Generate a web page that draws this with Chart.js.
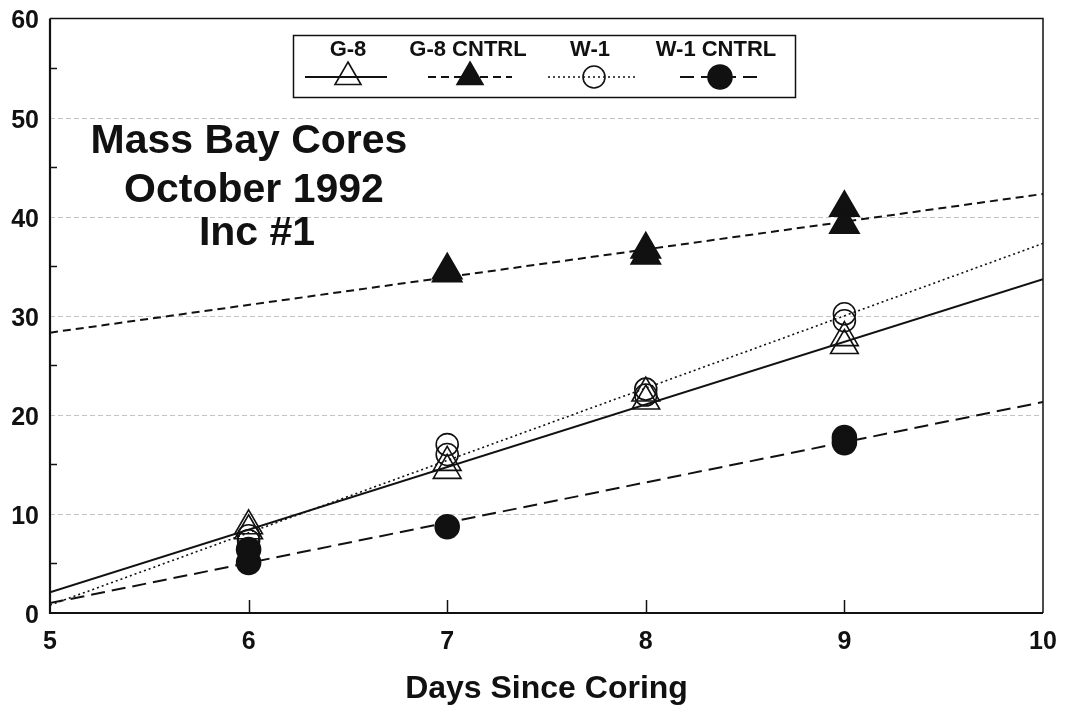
<!DOCTYPE html>
<html><head><meta charset="utf-8">
<script src="https://cdn.jsdelivr.net/npm/chart.js@4.4.0/dist/chart.umd.min.js"></script>
<style>html,body{margin:0;padding:0;background:#fff;}#wrap{width:1065px;height:708px;}</style>
</head><body><div id="wrap"><canvas id="c" width="1065" height="708"></canvas></div>
<script>
// ---------- data ----------
const SERIES_NAMES = ['G-8', 'G-8 CNTRL', 'W-1', 'W-1 CNTRL'];
const G8_DAYS = [6, 6, 7, 7, 8, 8, 9, 9];
const G8_VALUES = [8.8, 8.3, 15.2, 14.4, 22.2, 21.4, 27.8, 27.0];
const G8C_DAYS = [7, 7, 8, 8, 9, 9];
const G8C_VALUES = [34.6, 34.3, 36.7, 36.1, 40.9, 39.2];
const W1_DAYS = [6, 6, 7, 7, 8, 8, 9, 9];
const W1_VALUES = [7.8, 7.3, 17.0, 16.0, 22.6, 22.0, 30.2, 29.5];
const W1C_DAYS = [6, 6, 7, 9, 9];
const W1C_VALUES = [6.4, 5.1, 8.7, 17.7, 17.2];
// fitted regression lines, read at the ends of the axis
const FIT_DAYS = [5, 10];
const G8_FIT = [2.1, 33.7];
const G8C_FIT = [28.3, 42.3];
const W1_FIT = [0.8, 37.3];
const W1C_FIT = [1.0, 21.3];
const X_TICKS = [5, 6, 7, 8, 9, 10];
const Y_TICKS = [0, 10, 20, 30, 40, 50, 60];
const Y_MINOR = [5, 15, 25, 35, 45, 55];
const TITLE_LINES = ['Mass Bay Cores', 'October 1992', 'Inc #1'];
const X_TITLE = 'Days Since Coring';

// ---------- styles ----------
const FONT = "'Liberation Sans', Arial, Helvetica, sans-serif";
const INK = '#111';
const STY = [
  {style: 'triangle', r: 16, fill: 'rgba(0,0,0,0)', dash: [], lw: 2},
  {style: 'triangle', r: 17, fill: INK, dash: [8, 5], lw: 2},
  {style: 'circle', r: 11, fill: 'rgba(0,0,0,0)', dash: [2, 3], lw: 1.6},
  {style: 'circle', r: 12, fill: INK, dash: [14, 7], lw: 2}
];
const pts = (xs, ys) => xs.map((x, i) => ({x: x, y: ys[i]}));
const allPts = [pts(G8_DAYS, G8_VALUES), pts(G8C_DAYS, G8C_VALUES), pts(W1_DAYS, W1_VALUES), pts(W1C_DAYS, W1C_VALUES)];
const allFits = [pts(FIT_DAYS, G8_FIT), pts(FIT_DAYS, G8C_FIT), pts(FIT_DAYS, W1_FIT), pts(FIT_DAYS, W1C_FIT)];
const pointOrder = [3, 1, 2, 0];

const datasets = [];
SERIES_NAMES.forEach((name, i) => {
  datasets.push({
    label: name, data: allPts[i], showLine: false,
    pointStyle: STY[i].style, pointRadius: STY[i].r, pointHoverRadius: STY[i].r,
    pointBackgroundColor: STY[i].fill, pointBorderColor: INK, pointBorderWidth: 1.6,
    order: pointOrder[i]
  });
});
SERIES_NAMES.forEach((name, i) => {
  datasets.push({
    label: name + ' fit', data: allFits[i], showLine: true,
    borderColor: INK, borderWidth: STY[i].lw, borderDash: STY[i].dash,
    pointRadius: 0, pointHoverRadius: 0, fill: false, order: 10 + i
  });
});

function marker(ctx, st, x, y, r) {
  ctx.save();
  ctx.fillStyle = st.fill; ctx.strokeStyle = INK; ctx.lineWidth = 1.6; ctx.setLineDash([]);
  Chart.helpers.drawPoint(ctx, {pointStyle: st.style, radius: r, borderWidth: 1.6, rotation: 0}, x, y);
  ctx.restore();
}

const LEGEND = {box: [293, 35, 795, 97], textY: 50, lineY: 77,
  items: [
    {tx: 348, l0: 305, l1: 387, mx: 348, r: 15},
    {tx: 468, l0: 428, l1: 512, mx: 470, r: 15},
    {tx: 590, l0: 548, l1: 637, mx: 594, r: 11},
    {tx: 716, l0: 680, l1: 763, mx: 720, r: 12}
  ]};
const TITLE_POS = [[249, 153], [254, 202], [257, 245]];

const deco = {
  id: 'deco',
  beforeDatasetsDraw(chart) {
    const ctx = chart.ctx, a = chart.chartArea, ys = chart.scales.y;
    ctx.save();
    ctx.strokeStyle = '#c4c4c4'; ctx.lineWidth = 1; ctx.setLineDash([5, 3]);
    Y_TICKS.forEach(v => {
      if (v <= 0 || v >= 60) return;
      const py = Math.round(ys.getPixelForValue(v)) + 0.5;
      ctx.beginPath(); ctx.moveTo(a.left, py); ctx.lineTo(a.right, py); ctx.stroke();
    });
    ctx.restore();
  },
  afterDatasetsDraw(chart) {
    const ctx = chart.ctx, a = chart.chartArea, xs = chart.scales.x, ys = chart.scales.y;
    ctx.save();
    ctx.strokeStyle = INK; ctx.setLineDash([]);
    // frame
    ctx.lineWidth = 1.5;
    ctx.beginPath(); ctx.moveTo(a.left, a.top); ctx.lineTo(a.right, a.top); ctx.lineTo(a.right, a.bottom); ctx.stroke();
    ctx.lineWidth = 2.2;
    ctx.beginPath(); ctx.moveTo(a.left, a.top); ctx.lineTo(a.left, a.bottom); ctx.lineTo(a.right, a.bottom); ctx.stroke();
    // ticks
    ctx.lineWidth = 1.5;
    X_TICKS.forEach(v => {
      if (v <= 5 || v >= 10) return;
      const px = Math.round(xs.getPixelForValue(v)) + 0.5;
      ctx.beginPath(); ctx.moveTo(px, a.bottom); ctx.lineTo(px, a.bottom - 13); ctx.stroke();
    });
    Y_MINOR.forEach(v => {
      const py = Math.round(ys.getPixelForValue(v)) + 0.5;
      ctx.beginPath(); ctx.moveTo(a.left, py); ctx.lineTo(a.left + 7, py); ctx.stroke();
    });
    // in-plot title
    ctx.fillStyle = INK; ctx.textAlign = 'center'; ctx.textBaseline = 'alphabetic';
    ctx.font = 'bold 41px ' + FONT;
    TITLE_LINES.forEach((t, i) => ctx.fillText(t, TITLE_POS[i][0], TITLE_POS[i][1]));
    // legend
    const b = LEGEND.box;
    ctx.fillStyle = '#fff'; ctx.fillRect(b[0], b[1], b[2] - b[0], b[3] - b[1]);
    ctx.lineWidth = 1.5; ctx.strokeStyle = INK;
    ctx.strokeRect(b[0] + 0.5, b[1] + 0.5, b[2] - b[0], b[3] - b[1]);
    ctx.font = 'bold 22px ' + FONT; ctx.fillStyle = INK; ctx.textBaseline = 'middle';
    LEGEND.items.forEach((it, i) => {
      ctx.fillText(SERIES_NAMES[i], it.tx, LEGEND.textY);
      ctx.save();
      ctx.lineWidth = STY[i].lw; ctx.setLineDash(STY[i].dash);
      ctx.beginPath(); ctx.moveTo(it.l0, LEGEND.lineY); ctx.lineTo(it.l1, LEGEND.lineY); ctx.stroke();
      ctx.restore();
      marker(ctx, STY[i], it.mx, LEGEND.lineY, it.r);
    });
    ctx.restore();
  }
};

new Chart(document.getElementById('c'), {
  type: 'scatter',
  data: {datasets: datasets},
  plugins: [deco],
  options: {
    responsive: false, animation: false, devicePixelRatio: 1,
    layout: {padding: {top: 9, right: 22, left: 0, bottom: 0}},
    plugins: {legend: {display: false}, tooltip: {enabled: false}},
    scales: {
      x: {
        type: 'linear', min: 5, max: 10,
        afterBuildTicks: s => { s.ticks = X_TICKS.map(v => ({value: v})); },
        ticks: {font: {family: FONT, size: 25, weight: 'bold'}, color: INK, padding: 14, maxRotation: 0},
        grid: {display: false, drawTicks: false},
        border: {display: false},
        title: {display: true, text: X_TITLE, color: INK, font: {family: FONT, size: 32, weight: 'bold'}, padding: {top: 0, bottom: 0}},
        afterFit: s => { s.height = 95; s.paddingLeft = 0; s.paddingRight = 0; }
      },
      y: {
        type: 'linear', min: 0, max: 60,
        afterBuildTicks: s => { s.ticks = Y_TICKS.map(v => ({value: v})); },
        ticks: {font: {family: FONT, size: 25, weight: 'bold', lineHeight: 0.95}, color: INK, padding: 11, labelOffset: 3},
        grid: {display: false, drawTicks: false},
        border: {display: false},
        afterFit: s => { s.width = 50; s.paddingTop = 0; s.paddingBottom = 0; }
      }
    }
  }
});
</script></body></html>
